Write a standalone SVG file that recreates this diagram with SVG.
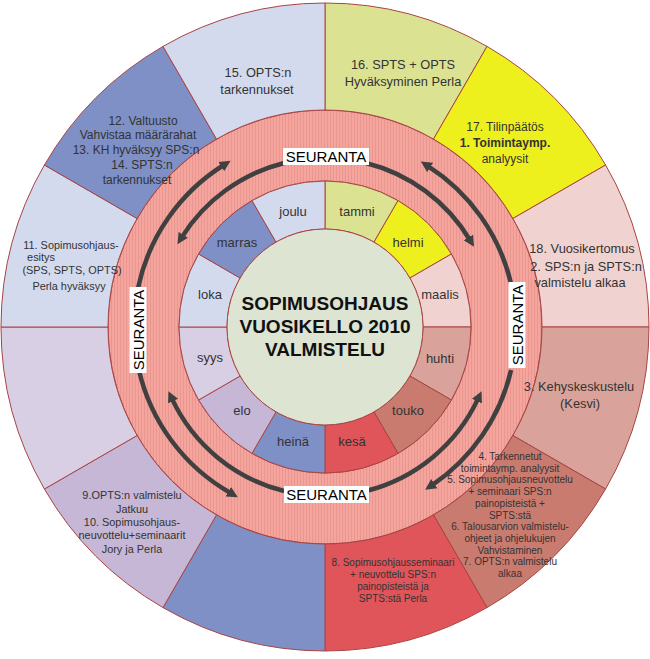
<svg xmlns="http://www.w3.org/2000/svg" width="650" height="659" viewBox="0 0 650 659">
<style>
.sec{stroke:#a84444;stroke-width:1;}
.t{font-family:"Liberation Sans",Arial,sans-serif;fill:#333;text-anchor:middle;}
.s13{font-size:12.8px;}
.s12{font-size:12px;}
.s11{font-size:10.9px;}
.s10{font-size:10px;}
.m{font-family:"Liberation Sans",Arial,sans-serif;fill:#333;text-anchor:middle;font-size:13px;}
.ctr{font-family:"Liberation Sans",Arial,sans-serif;fill:#111;text-anchor:middle;font-size:19px;font-weight:bold;}
.lbl{font-family:"Liberation Sans",Arial,sans-serif;fill:#000;text-anchor:middle;font-size:15px;}
.arr{fill:none;stroke:#404040;stroke-width:4.5;marker-end:url(#ah);}
.green{fill:#dbe393;} .yellow{fill:#eef01e;} .lpink{fill:#f0d3d0;} .mpink{fill:#d9a39b;}
.rose{fill:#c97b6f;} .red{fill:#e0555a;} .blue{fill:#7e90c6;} .lav{fill:#c5b7d5;}
.llav{fill:#d9cfe4;} .lblue{fill:#d3daed;}
</style>
<defs>
<pattern id="hatch" width="3" height="4" patternUnits="userSpaceOnUse">
<rect width="3" height="4" fill="#f4a59d"/>
<rect width="1" height="4" fill="#ea958d"/>
</pattern>
<marker id="ah" markerUnits="userSpaceOnUse" markerWidth="12" markerHeight="12" viewBox="0 0 12 12" refX="3" refY="6" orient="auto">
<path d="M0,0.5 L11,6 L0,11.5 Z" fill="#404040"/>
</marker>
</defs>
<rect width="650" height="659" fill="#ffffff"/>

<g id="seuranta-ring">
<path d="M108,327 a217,217 0 1,0 434,0 a217,217 0 1,0 -434,0 Z M179,327 a146,146 0 1,0 292,0 a146,146 0 1,0 -292,0 Z" fill="url(#hatch)" fill-rule="evenodd" stroke="#a84444" stroke-width="1"/>
</g>

<g id="months">
<g id="tammi"><path class="sec green" d="M325,229 L325,181 A146,146 0 0 1 398,200.6 L374,242.1 A98,98 0 0 0 325,229Z"/><text class="m" x="357" y="216">tammi</text></g>
<g id="helmi"><path class="sec yellow" d="M374,242.1 L398,200.6 A146,146 0 0 1 451.4,254 L409.9,278 A98,98 0 0 0 374,242.1Z"/><text class="m" x="408" y="247">helmi</text></g>
<g id="maalis"><path class="sec lpink" d="M409.9,278 L451.4,254 A146,146 0 0 1 471,327 L423,327 A98,98 0 0 0 409.9,278Z"/><text class="m" x="440" y="299">maalis</text></g>
<g id="huhti"><path class="sec mpink" d="M423,327 L471,327 A146,146 0 0 1 451.4,400 L409.9,376 A98,98 0 0 0 423,327Z"/><text class="m" x="440" y="363">huhti</text></g>
<g id="touko"><path class="sec rose" d="M409.9,376 L451.4,400 A146,146 0 0 1 398,453.4 L374,411.9 A98,98 0 0 0 409.9,376Z"/><text class="m" x="408" y="415">touko</text></g>
<g id="kesa"><path class="sec red" d="M374,411.9 L398,453.4 A146,146 0 0 1 325,473 L325,425 A98,98 0 0 0 374,411.9Z"/><text class="m" x="352" y="446">kesä</text></g>
<g id="heina"><path class="sec blue" d="M325,425 L325,473 A146,146 0 0 1 252,453.4 L276,411.9 A98,98 0 0 0 325,425Z"/><text class="m" x="293" y="446">heinä</text></g>
<g id="elo"><path class="sec lav" d="M276,411.9 L252,453.4 A146,146 0 0 1 198.6,400 L240.1,376 A98,98 0 0 0 276,411.9Z"/><text class="m" x="242" y="415">elo</text></g>
<g id="syys"><path class="sec llav" d="M240.1,376 L198.6,400 A146,146 0 0 1 179,327 L227,327 A98,98 0 0 0 240.1,376Z"/><text class="m" x="210" y="362">syys</text></g>
<g id="loka"><path class="sec lblue" d="M227,327 L179,327 A146,146 0 0 1 198.6,254 L240.1,278 A98,98 0 0 0 227,327Z"/><text class="m" x="210" y="299">loka</text></g>
<g id="marras"><path class="sec blue" d="M240.1,278 L198.6,254 A146,146 0 0 1 252,200.6 L276,242.1 A98,98 0 0 0 240.1,278Z"/><text class="m" x="237" y="247">marras</text></g>
<g id="joulu"><path class="sec lblue" d="M276,242.1 L252,200.6 A146,146 0 0 1 325,181 L325,229 A98,98 0 0 0 276,242.1Z"/><text class="m" x="293" y="216">joulu</text></g>
</g>

<g id="center">
<circle cx="325" cy="327" r="98" fill="#dee4d2" stroke="#a84444" stroke-width="1"/>
<text class="ctr" x="325" y="310">SOPIMUSOHJAUS</text>
<text class="ctr" x="325" y="333">VUOSIKELLO 2010</text>
<text class="ctr" x="325" y="356">VALMISTELU</text>
</g>

<g id="outer-ring">
<g id="s16"><path class="sec green" d="M325,110 L325,3 A324,324 0 0 1 487,46.4 L433.5,139.1 A217,217 0 0 0 325,110Z"/>
<text class="t s13" x="403" y="69">16. SPTS + OPTS</text><text class="t s13" x="403" y="86">Hyväksyminen Perla</text></g>
<g id="s17"><path class="sec yellow" d="M433.5,139.1 L487,46.4 A324,324 0 0 1 605.6,165 L512.9,218.5 A217,217 0 0 0 433.5,139.1Z"/>
<text class="t s12" x="505" y="131">17. Tilinpäätös</text><text class="t s12" x="505" y="147" font-weight="bold">1. Toimintaymp.</text><text class="t s12" x="505" y="163">analyysit</text></g>
<g id="s18"><path class="sec lpink" d="M512.9,218.5 L605.6,165 A324,324 0 0 1 649,327 L542,327 A217,217 0 0 0 512.9,218.5Z"/></g>
<g id="s3"><path class="sec mpink" d="M542,327 L649,327 A324,324 0 0 1 605.6,489 L512.9,435.5 A217,217 0 0 0 542,327Z"/></g>
<g id="s4"><path class="sec rose" d="M512.9,435.5 L605.6,489 A324,324 0 0 1 487,607.6 L433.5,514.9 A217,217 0 0 0 512.9,435.5Z"/></g>
<g id="s8"><path class="sec red" d="M433.5,514.9 L487,607.6 A324,324 0 0 1 325,651 L325,544 A217,217 0 0 0 433.5,514.9Z"/>
<text class="t s10" x="393" y="566">8. Sopimusohjausseminaari</text><text class="t s10" x="393" y="578">+ neuvottelu SPS:n</text><text class="t s10" x="393" y="590">painopisteistä ja</text><text class="t s10" x="393" y="602">SPTS:stä Perla</text></g>
<g id="s-blue"><path class="sec blue" d="M325,544 L325,651 A324,324 0 0 1 163,607.6 L216.5,514.9 A217,217 0 0 0 325,544Z"/></g>
<g id="s9"><path class="sec lav" d="M216.5,514.9 L163,607.6 A324,324 0 0 1 44.4,489 L137.1,435.5 A217,217 0 0 0 216.5,514.9Z"/>
<text class="t s11" x="132" y="499">9.OPTS:n valmistelu</text><text class="t s11" x="132" y="513">Jatkuu</text><text class="t s11" x="132" y="526">10. Sopimusohjaus-</text><text class="t s11" x="132" y="539">neuvottelu+seminaarit</text><text class="t s11" x="132" y="553">Jory ja Perla</text></g>
<g id="s-lav"><path class="sec llav" d="M137.1,435.5 L44.4,489 A324,324 0 0 1 1,327 L108,327 A217,217 0 0 0 137.1,435.5Z"/></g>
<g id="s11"><path class="sec lblue" d="M108,327 L1,327 A324,324 0 0 1 44.4,165 L137.1,218.5 A217,217 0 0 0 108,327Z"/></g>
<g id="s12"><path class="sec blue" d="M137.1,218.5 L44.4,165 A324,324 0 0 1 163,46.4 L216.5,139.1 A217,217 0 0 0 137.1,218.5Z"/></g>
<g id="s15"><path class="sec lblue" d="M216.5,139.1 L163,46.4 A324,324 0 0 1 325,3 L325,110 A217,217 0 0 0 216.5,139.1Z"/>
<text class="t s13" x="258" y="77">15. OPTS:n</text><text class="t s13" x="257" y="94">tarkennukset</text></g>
</g>

<g id="overlapping-texts">
<g id="s18-text"><text class="t s13" x="582" y="253">18. Vuosikertomus</text><text class="t s13" x="586" y="271">2. SPS:n ja SPTS:n</text><text class="t s13" x="580" y="287">valmistelu alkaa</text></g>
<g id="s3-text"><text class="t s13" x="579" y="391">3. Kehyskeskustelu</text><text class="t s13" x="580" y="408">(Kesvi)</text></g>
<g id="s11-text"><text class="t s11" x="71" y="249">11. Sopimusohjaus-</text><text class="t s11" x="41" y="261">esitys</text><text class="t s11" x="72" y="274">(SPS, SPTS, OPTS)</text><text class="t s11" x="69" y="290">Perla hyväksyy</text></g>
<g id="s12-text"><text class="t s12" x="143" y="125">12. Valtuusto</text><text class="t s12" x="138" y="139">Vahvistaa määrärahat</text><text class="t s12" x="136" y="154">13. KH hyväksyy SPS:n</text><text class="t s12" x="142" y="169">14. SPTS:n</text><text class="t s12" x="137" y="184">tarkennukset</text></g>
<g id="s4-text">
<text class="t s10" x="510" y="460">4. Tarkennetut</text>
<text class="t s10" x="510" y="471.7">toimintaymp. analyysit</text>
<text class="t s10" x="510" y="483.4">5. Sopimusohjausneuvottelu</text>
<text class="t s10" x="510" y="495.1">+ seminaari SPS:n</text>
<text class="t s10" x="510" y="506.8">painopisteistä +</text>
<text class="t s10" x="510" y="518.5">SPTS:stä</text>
<text class="t s10" x="510" y="530.2">6. Talousarvion valmistelu-</text>
<text class="t s10" x="510" y="541.9">ohjeet ja ohjelukujen</text>
<text class="t s10" x="510" y="553.6">Vahvistaminen</text>
<text class="t s10" x="510" y="565.3">7. OPTS:n valmistelu</text>
<text class="t s10" x="510" y="577">alkaa</text>
</g>
</g>

<g id="connectors">
<path class="arr" d="M138.2,287.3 A191,191 0 0 1 223.8,165"/>
<path class="arr" d="M511.1,284 A191,191 0 0 0 427.6,165.9"/>
<path class="arr" d="M511.1,370 A191,191 0 0 1 431.8,485.3"/>
<path class="arr" d="M138.9,370 A191,191 0 0 0 230.9,493.2"/>
<path class="arr" d="M284.1,163 A169,169 0 0 0 181.7,237.4"/>
<path class="arr" d="M365.9,163 A169,169 0 0 1 469.9,240"/>
<path class="arr" d="M365.9,491 A169,169 0 0 0 478.2,398.4"/>
<path class="arr" d="M284.1,491 A169,169 0 0 1 171.8,398.4"/>
</g>

<g id="labels">
<g id="seuranta-top"><rect x="283" y="148" width="86" height="17" fill="#fff"/><text class="lbl" x="326" y="162">SEURANTA</text></g>
<g id="seuranta-bottom"><rect x="284" y="486" width="85" height="17" fill="#fff"/><text class="lbl" x="326.5" y="500">SEURANTA</text></g>
<g id="seuranta-left" transform="translate(138,330) rotate(-90)"><rect x="-43" y="-8.5" width="86" height="17" fill="#fff"/><text class="lbl" x="0" y="5.5">SEURANTA</text></g>
<g id="seuranta-right" transform="translate(517,325) rotate(-90)"><rect x="-43" y="-8.5" width="86" height="17" fill="#fff"/><text class="lbl" x="0" y="5.5">SEURANTA</text></g>
</g>
</svg>
